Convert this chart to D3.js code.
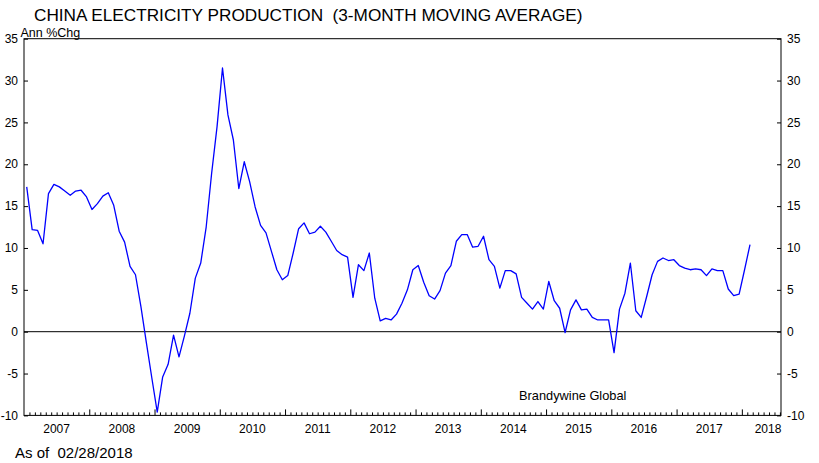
<!DOCTYPE html>
<html>
<head>
<meta charset="utf-8">
<script src="https://cdn.jsdelivr.net/npm/d3@7"></script>
<style>
  html, body { margin: 0; padding: 0; background: #fff; }
  svg { display: block; font-family: "Liberation Sans", Arial, sans-serif; }
  .pre { white-space: pre; }
</style>
</head>
<body>
<svg id="chart" width="819" height="463"></svg>
<script>
// ---- Data (3-month moving average, annual % change), Jan 2007 .. Feb 2018 ----
const startYear = 2007;
const values2007 = [17.3, 12.2, 12.1, 10.5, 16.5, 17.6, 17.3, 16.8, 16.3, 16.8, 16.9, 16.1];
const values2008 = [14.6, 15.3, 16.2, 16.6, 15.1, 12.0, 10.7, 7.8, 6.8, 3.0, -1.3, -5.5];
const values2009 = [-9.6, -5.4, -3.9, -0.4, -3.0, -0.5, 2.2, 6.4, 8.2, 12.5, 18.9, 24.5];
const values2010 = [31.5, 25.9, 22.9, 17.1, 20.3, 17.9, 14.9, 12.7, 11.8, 9.6, 7.4, 6.2];
const values2011 = [6.7, 9.4, 12.3, 13.0, 11.7, 11.9, 12.6, 11.9, 10.8, 9.7, 9.2, 8.9];
const values2012 = [4.1, 8.0, 7.3, 9.4, 4.0, 1.3, 1.6, 1.4, 2.1, 3.4, 5.0, 7.4];
const values2013 = [7.9, 5.9, 4.3, 3.9, 4.9, 7.0, 7.9, 10.8, 11.6, 11.6, 10.1, 10.2];
const values2014 = [11.4, 8.6, 7.8, 5.2, 7.3, 7.3, 6.9, 4.1, 3.4, 2.7, 3.6, 2.7];
const values2015 = [6.0, 3.7, 2.8, -0.1, 2.6, 3.8, 2.6, 2.7, 1.7, 1.4, 1.4, 1.4];
const values2016 = [-2.5, 2.7, 4.6, 8.2, 2.5, 1.7, 4.2, 6.8, 8.4, 8.8, 8.5, 8.6];
const values2017 = [7.9, 7.6, 7.4, 7.5, 7.4, 6.7, 7.5, 7.3, 7.3, 5.1, 4.3, 4.5];
const values2018 = [7.4, 10.4];

const yearLabels = ["2007","2008","2009","2010","2011","2012","2013","2014","2015","2016","2017","2018"];
const yTicks = [-10, -5, 0, 5, 10, 15, 20, 25, 30, 35];

const titleText = "CHINA ELECTRICITY PRODUCTION  (3-MONTH MOVING AVERAGE)";
const unitText = "Ann %Chg";
const sourceText = "Brandywine Global";
const asOfText = "As of  02/28/2018";

const allValues = [].concat(values2007, values2008, values2009, values2010, values2011,
  values2012, values2013, values2014, values2015, values2016, values2017, values2018);
const series = allValues.map((v, i) => ({ t: startYear + (i + 0.5) / 12, v }));

// ---- Layout ----
const svg = d3.select("#chart");
const L = 24, R = 781, T = 38.7, B = 415.4;

const x = d3.scaleLinear().domain([2007, 2018.6]).range([L, R]);
const y = d3.scaleLinear().domain([-10, 35]).range([B, T]);

// Title
svg.append("text").attr("class", "pre").attr("x", 34).attr("y", 21)
  .attr("font-size", 17.2).attr("fill", "#000").text(titleText);

// Unit label
svg.append("text").attr("x", 20.5).attr("y", 36.5)
  .attr("font-size", 12.5).attr("fill", "#000").text(unitText);

// Zero line
svg.append("line")
  .attr("x1", L).attr("x2", R).attr("y1", y(0)).attr("y2", y(0))
  .attr("stroke", "#000").attr("stroke-width", 1);

// Left axis (ticks inward)
const leftAxis = d3.axisRight(y).tickValues(yTicks).tickSize(4).tickFormat("");
const gl = svg.append("g").attr("transform", `translate(${L},0)`).call(leftAxis);
gl.select(".domain").remove();
gl.selectAll("line").attr("stroke", "#000");
svg.append("g").selectAll("text").data(yTicks).join("text")
  .attr("x", 18).attr("y", d => y(d)).attr("dy", "0.35em")
  .attr("text-anchor", "end").attr("font-size", 12).text(d => d);

// Right axis (ticks inward)
const rightAxis = d3.axisLeft(y).tickValues(yTicks).tickSize(4).tickFormat("");
const gr = svg.append("g").attr("transform", `translate(${R},0)`).call(rightAxis);
gr.select(".domain").remove();
gr.selectAll("line").attr("stroke", "#000");
svg.append("g").selectAll("text").data(yTicks).join("text")
  .attr("x", 787).attr("y", d => y(d)).attr("dy", "0.35em")
  .attr("text-anchor", "start").attr("font-size", 12).text(d => d);

// Bottom axis: monthly minor ticks, yearly major ticks (inward)
const monthTicks = d3.range(2007 * 12 + 1, Math.floor(2018.6 * 12) + 1)
  .map(m => m / 12).filter(t => Math.abs(t - Math.round(t)) > 1e-6);
const yearTicks = d3.range(2008, 2019);
const minorAxis = d3.axisTop(x).tickValues(monthTicks).tickSize(3).tickFormat("");
const gm = svg.append("g").attr("transform", `translate(0,${B})`).call(minorAxis);
gm.select(".domain").remove();
gm.selectAll("line").attr("stroke", "#000");
const majorAxis = d3.axisTop(x).tickValues(yearTicks).tickSize(6).tickFormat("");
const gM = svg.append("g").attr("transform", `translate(0,${B})`).call(majorAxis);
gM.select(".domain").remove();
gM.selectAll("line").attr("stroke", "#000");

svg.append("g").selectAll("text").data(yearLabels).join("text")
  .attr("x", d => Math.min(x(+d + 0.5), R - 13))
  .attr("y", 433).attr("text-anchor", "middle").attr("font-size", 12).text(d => d);

// Frame
svg.append("rect").attr("x", L).attr("y", T).attr("width", R - L).attr("height", B - T)
  .attr("fill", "none").attr("stroke", "#000").attr("stroke-width", 1);

// Series line
const line = d3.line().x(d => x(d.t)).y(d => y(d.v));
svg.append("path").datum(series).attr("d", line)
  .attr("fill", "none").attr("stroke", "#0000ff").attr("stroke-width", 1.3)
  .attr("stroke-linejoin", "round");

// Source note
svg.append("text").attr("x", 519).attr("y", 400)
  .attr("font-size", 12.8).attr("fill", "#000").text(sourceText);

// As of
svg.append("text").attr("class", "pre").attr("x", 15).attr("y", 458)
  .attr("font-size", 15).attr("fill", "#000").text(asOfText);
</script>
</body>
</html>
